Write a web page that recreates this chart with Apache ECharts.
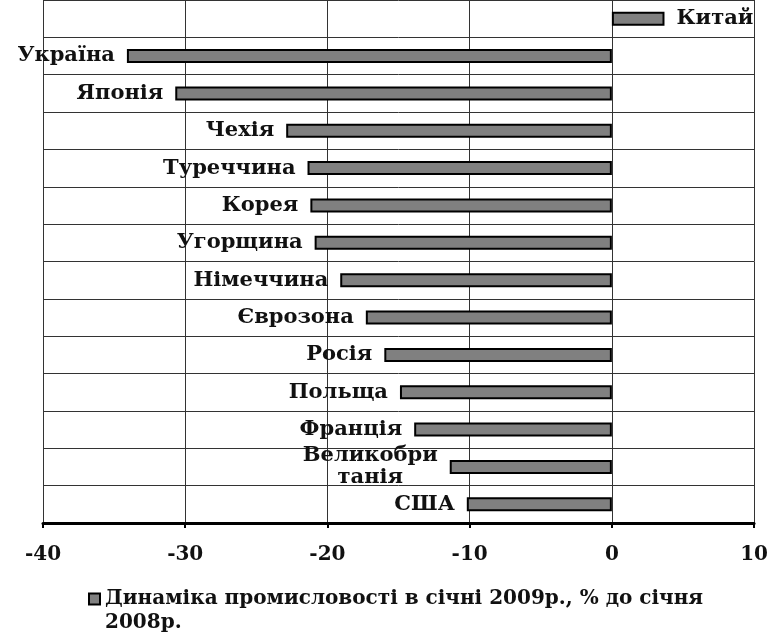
<!DOCTYPE html>
<html>
<head>
<meta charset="utf-8">
<script src="https://cdn.jsdelivr.net/npm/echarts@6/dist/echarts.min.js"></script>
<style>
    html, body { margin: 0; padding: 0; background: #fff; overflow: hidden; }
    #chart { width: 771px; height: 637px; }
</style>
</head>
<body>
<div id="chart"></div>
<script>
// країни зверху вниз
var countries = ['Китай', 'Україна', 'Японія', 'Чехія', 'Туреччина', 'Корея', 'Угорщина',
    'Німеччина', 'Єврозона', 'Росія', 'Польща', 'Франція', 'Великобри\nтанія', 'США'];
// динаміка, %
var values = [3.7, -34.1, -30.7, -22.9, -21.4, -21.2, -20.9,
    -19.1, -17.3, -16.0, -14.9, -13.9, -11.4, -10.2];
var seriesName = 'Динаміка промисловості в січні 2009р., % до січня 2008р.';
var legendLines = ['Динаміка промисловості в січні 2009р., % до січня', '2008р.'];

var fontName = '"DejaVu Serif", "Liberation Serif", serif';

init();

function init() {
    var myChart = echarts.init(document.getElementById('chart'));

    var barData = values.map(function (v) {
        return { value: v, label: { position: v < 0 ? 'left' : 'right' } };
    });

    var option = {
        animation: false,
        grid: { left: 43, right: 15, top: 0, bottom: 114 },
        legend: {
            data: [seriesName],
            left: 83,
            top: 558,
            icon: 'rect',
            itemWidth: 11,
            itemHeight: 11,
            formatter: function () {
                // порожній перший рядок, щоб значок стояв навпроти першого рядка
                return '\n' + legendLines.join('\n');
            },
            textStyle: {
                fontFamily: fontName,
                fontWeight: 'bold',
                fontSize: 20,
                color: '#111',
                lineHeight: 24
            }
        },
        xAxis: {
            type: 'value',
            min: -40,
            max: 10,
            interval: 10,
            axisLine: { show: true, onZero: false, lineStyle: { color: '#000', width: 3 } },
            axisTick: { show: true, length: 5, lineStyle: { color: '#000', width: 2 } },
            axisLabel: {
                fontFamily: fontName,
                fontWeight: 'bold',
                fontSize: 20,
                color: '#111',
                margin: 22
            },
            splitLine: { show: true, lineStyle: { color: '#333', width: 1 } }
        },
        yAxis: {
            type: 'category',
            inverse: true,
            data: countries,
            axisLine: { show: false },
            axisTick: { show: false },
            axisLabel: { show: false },
            splitLine: { show: true, lineStyle: { color: '#333', width: 1 } }
        },
        series: [
            {
                name: seriesName,
                type: 'bar',
                barWidth: 14,
                itemStyle: { color: '#808080', borderColor: '#000', borderWidth: 2 },
                label: {
                    show: true,
                    distance: 12,
                    fontFamily: fontName,
                    fontWeight: 'bold',
                    fontSize: 21,
                    color: '#111',
                    formatter: function (p) {
                        if (p.name.indexOf('\n') < 0) return p.name;
                        return p.name.split('\n').map(function (s) { return '{c|' + s + '}'; }).join('\n');
                    },
                    rich: {
                        c: {
                            align: 'center',
                            fontFamily: fontName,
                            fontWeight: 'bold',
                            fontSize: 21,
                            color: '#111',
                            lineHeight: 22
                        }
                    }
                },
                data: barData
            }
        ]
    };

    myChart.setOption(option);
}
</script>
</body>
</html>
